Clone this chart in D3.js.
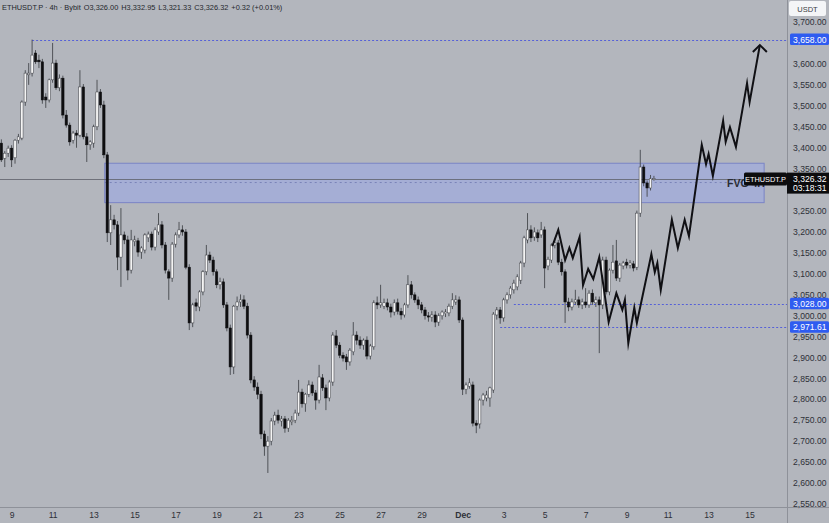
<!DOCTYPE html>
<html><head><meta charset="utf-8">
<script src="https://cdnjs.cloudflare.com/ajax/libs/d3/7.8.5/d3.min.js"></script>
<style>html,body{margin:0;padding:0;background:#b3b6bd;overflow:hidden}svg{display:block}</style>
</head><body><svg id="c" width="829" height="523"></svg>
<script>
// ---------- data ----------
const headerTitle = "ETHUSDT.P · 4h · Bybit";
const headerValues = ["O3,326.00", "H3,332.95", "L3,321.33", "C3,326.32", "+0.32 (+0.01%)"];
const firstBar = "2025-11-08T12:00:00Z";   // 4h bars
const barHours = 4;

const open = [
3411,3375,3387,3399,3376,3418,3423,3509,3574,3578,
3626,3609,3605,3521,3514,3562,3602,3543,3566,3478,
3454,3418,3435,3430,3545,3426,3407,3411,3450,3533,
3502,3383,3197,3228,3216,3139,3192,3180,3108,3176,
3178,3151,3156,3185,3194,3163,3199,3216,3168,3104,
3089,3170,3192,3204,3199,3115,2982,3030,3020,3056,
3104,3144,3132,3104,3073,3080,3025,2970,2877,3022,
3032,3037,3022,2953,2846,2829,2812,2717,2688,2700,
2748,2762,2748,2753,2731,2746,2750,2767,2817,2789,
2812,2834,2815,2798,2851,2827,2803,2841,2951,2929,
2905,2901,2889,2913,2953,2941,2929,2941,2903,2925,
3030,3025,3022,3030,3020,3008,3030,3010,3001,3025,
3073,3049,3037,3025,3013,2999,2996,3001,2984,2999,
3004,3006,3022,3032,3037,2989,2824,2831,2834,2743,
2741,2798,2803,2803,2822,3001,3013,2994,3037,3049,
3061,3068,3084,3125,3180,3204,3187,3197,3192,3204,
3118,3132,3168,3173,3127,3104,3032,3020,3032,3037,
3025,3032,3025,3053,3030,3037,3025,3132,3056,3108,
3130,3089,3118,3127,3120,3123,3115,3244,3354,3316,
3304,3326.00];
const high = [
3420,3392,3405,3406,3421,3433,3513,3585,3602,3658,
3633,3622,3612,3530,3565,3650,3610,3575,3572,3490,
3460,3440,3442,3585,3552,3435,3418,3455,3562,3540,
3512,3390,3263,3240,3225,3256,3200,3190,3204,3190,
3185,3165,3196,3200,3200,3210,3244,3225,3175,3110,
3175,3198,3223,3215,3206,3122,3030,3040,3060,3108,
3168,3152,3140,3110,3090,3088,3032,2978,3025,3045,
3050,3048,3030,2960,2855,2840,2820,2725,2712,2755,
2770,2775,2760,2760,2755,2760,2775,2846,2825,2815,
2845,2842,2822,2882,2860,2835,2846,2960,2965,2936,
2912,2908,2922,2984,2962,2950,2945,2950,2932,3036,
3045,3073,3040,3040,3028,3038,3040,3018,3030,3096,
3082,3055,3045,3032,3020,3008,3010,3010,3005,3012,
3015,3028,3053,3048,3045,2995,2840,2850,2842,2750,
2802,2815,2820,2830,3008,3020,3020,3042,3055,3070,
3085,3098,3130,3190,3244,3215,3210,3205,3223,3212,
3140,3172,3185,3180,3135,3110,3042,3040,3061,3045,
3040,3065,3060,3062,3045,3045,3140,3140,3112,3168,
3180,3125,3130,3135,3132,3130,3250,3395,3360,3322,
3335,3332.95];
const low = [
3366,3354,3378,3354,3362,3410,3418,3500,3550,3570,
3600,3590,3505,3495,3508,3555,3538,3535,3470,3448,
3405,3410,3400,3425,3420,3366,3395,3400,3442,3495,
3375,3175,3168,3205,3108,3068,3170,3084,3100,3165,
3140,3135,3148,3175,3155,3155,3192,3160,3100,3037,
3080,3162,3185,3190,3110,2965,2972,3010,3010,3048,
3096,3125,3095,3065,3062,3018,2962,2858,2860,3012,
3020,3015,2945,2838,2820,2800,2705,2665,2624,2690,
2738,2742,2735,2720,2722,2738,2743,2760,2780,2770,
2805,2808,2775,2790,2820,2774,2795,2832,2922,2898,
2890,2870,2880,2905,2930,2920,2918,2895,2895,2918,
3015,3018,3015,3012,2995,3000,3002,2990,2995,3018,
3040,3030,3015,3005,2990,2985,2985,2972,2975,2990,
2996,2998,3015,3025,2982,2810,2812,2825,2735,2719,
2730,2785,2795,2782,2815,2990,2980,2985,3028,3040,
3052,3060,3075,3115,3172,3175,3178,3175,3185,3065,
3108,3125,3160,3120,3095,2982,3010,3012,3025,3018,
3015,3018,3018,3025,3020,2910,3015,3050,3048,3100,
3082,3080,3110,3112,3112,3105,3108,3235,3308,3283,
3298,3321.33];
const close = [
3371,3387,3399,3371,3418,3426,3509,3578,3578,3621,
3605,3605,3514,3514,3562,3602,3543,3566,3478,3454,
3414,3435,3430,3545,3426,3407,3414,3450,3533,3502,
3383,3197,3228,3216,3139,3192,3180,3108,3180,3180,
3151,3161,3192,3194,3163,3204,3216,3168,3108,3089,
3170,3192,3204,3199,3115,2982,3025,3022,3056,3104,
3144,3132,3104,3073,3080,3025,2970,2877,3022,3032,
3037,3022,2953,2846,2829,2812,2717,2688,2700,2748,
2762,2750,2753,2731,2750,2750,2767,2817,2789,2812,
2834,2815,2798,2853,2827,2803,2841,2953,2929,2905,
2898,2889,2917,2953,2941,2929,2941,2903,2927,3030,
3025,3030,3030,3020,3008,3030,3010,3001,3025,3073,
3049,3037,3025,3013,2999,2996,3001,2984,2999,3008,
3008,3022,3037,3037,2989,2824,2834,2839,2743,2738,
2798,2810,2810,2827,3003,3013,2994,3037,3049,3065,
3077,3092,3125,3185,3204,3185,3199,3185,3204,3113,
3134,3168,3173,3127,3104,3032,3020,3032,3037,3025,
3032,3025,3053,3032,3037,3025,3132,3056,3108,3127,
3089,3120,3125,3120,3125,3113,3244,3354,3316,3304,
3326,3326.32];

const lastPrice = 3326.32;
const countdown = "03:18:31";

// visible price-scale labels (3,650 and 3,300 sit under the level / price boxes)
const priceTicks = [2550,2600,2650,2700,2750,2800,2850,2900,2950,3000,3050,3100,
  3150,3200,3250,3350,3400,3450,3500,3550,3600,3700];
const timeTicks = ["2025-11-09","2025-11-11","2025-11-13","2025-11-15","2025-11-17","2025-11-19",
  "2025-11-21","2025-11-23","2025-11-25","2025-11-27","2025-11-29","2025-12-01","2025-12-03",
  "2025-12-05","2025-12-07","2025-12-09","2025-12-11","2025-12-13","2025-12-15"];

const levelPrices = [3658.00, 3028.00, 2971.61];
const levelStarts = ["2025-11-10T00:00:00Z", "2025-12-03T12:00:00Z", "2025-12-02T20:00:00Z"];

const fvgTop = 3363, fvgBottom = 3269, fvgMid = 3317;
const fvgStart = "2025-11-13T13:00:00Z", fvgEnd = "2025-12-15T17:00:00Z";
const fvgLabel = "FVG 4H";

const projTimes = ["2025-12-05T09:00Z","2025-12-05T16:00Z","2025-12-06T00:00Z","2025-12-06T05:00Z",
  "2025-12-06T09:00Z","2025-12-06T17:00Z","2025-12-06T21:00Z","2025-12-07T03:00Z","2025-12-07T09:00Z",
  "2025-12-07T16:00Z","2025-12-08T03:00Z","2025-12-08T12:00Z","2025-12-08T19:00Z","2025-12-08T22:00Z",
  "2025-12-09T02:00Z","2025-12-09T09:00Z","2025-12-09T12:00Z","2025-12-10T05:00Z","2025-12-10T09:00Z",
  "2025-12-10T12:00Z","2025-12-10T16:00Z","2025-12-11T05:00Z","2025-12-11T12:00Z","2025-12-11T20:00Z",
  "2025-12-12T01:00Z","2025-12-12T16:00Z","2025-12-12T21:00Z","2025-12-13T00:00Z","2025-12-13T05:00Z",
  "2025-12-13T17:00Z","2025-12-13T20:00Z","2025-12-14T01:00Z","2025-12-14T08:00Z","2025-12-14T21:00Z",
  "2025-12-15T00:00Z","2025-12-15T12:00Z"];
const projPrices = [3165,3204,3132,3161,3137,3187,3072,3111,3087,3139,2984,3053,3013,3037,2934,3018,
  2982,3146,3103,3125,3061,3228,3161,3228,3189,3407,3361,3385,3333,3464,3414,3449,3402,3554,3509,3645];

// ---------- layout ----------
const W = 829, H = 523, plotR = 787, plotB = 507;
const bg = "#b3b6bd", txt = "#2e3038", lvl = "#5560d8", lblBlue = "#2f5cf0";
const font = "'Liberation Sans', Arial, sans-serif";

const svg = d3.select("#c");
svg.append("rect").attr("width", W).attr("height", H).attr("fill", bg);

const x = d3.scaleUtc()
  .domain([new Date("2025-11-09T00:00:00Z"), new Date("2025-12-15T00:00:00Z")])
  .range([11.6, 749.6]);
const y = d3.scaleLinear().domain([2550, 3700]).range([504, 22]);

const t0 = new Date(firstBar).getTime();
const bars = open.map((o, i) => ({
  t: new Date(t0 + i * barHours * 3600e3), o, h: high[i], l: low[i], c: close[i]
}));

const defs = svg.append("defs");
defs.append("clipPath").attr("id", "plot").append("rect")
  .attr("x", 0).attr("y", 0).attr("width", plotR).attr("height", plotB);

const plot = svg.append("g").attr("clip-path", "url(#plot)");

// FVG zone
plot.append("rect")
  .attr("x", x(new Date(fvgStart))).attr("y", y(fvgTop))
  .attr("width", x(new Date(fvgEnd)) - x(new Date(fvgStart)))
  .attr("height", y(fvgBottom) - y(fvgTop))
  .attr("fill", "#a5aed5").attr("stroke", "#7a84c6").attr("stroke-width", 1);
plot.append("line")
  .attr("x1", x(new Date(fvgStart))).attr("x2", x(new Date(fvgEnd)))
  .attr("y1", y(fvgMid)).attr("y2", y(fvgMid))
  .attr("stroke", "#7a84b8").attr("stroke-width", 1).attr("stroke-dasharray", "2,3");

// last price line
plot.append("line").attr("x1", 0).attr("x2", plotR)
  .attr("y1", Math.round(y(lastPrice)) + 0.5).attr("y2", Math.round(y(lastPrice)) + 0.5)
  .attr("stroke", "#5d6068").attr("stroke-width", 0.8);

// horizontal levels
levelPrices.forEach((p, i) => {
  const yy = Math.round(y(p)) + 0.5;
  plot.append("line").attr("x1", x(new Date(levelStarts[i]))).attr("x2", plotR)
    .attr("y1", yy).attr("y2", yy)
    .attr("stroke", lvl).attr("stroke-width", 1).attr("stroke-dasharray", "2,2");
});

// candles
const bw = 2.4;
const cg = plot.append("g");
cg.selectAll("line.w").data(bars).join("line").attr("class", "w")
  .attr("x1", d => x(d.t)).attr("x2", d => x(d.t))
  .attr("y1", d => y(d.h)).attr("y2", d => y(d.l))
  .attr("stroke", "#45474d").attr("stroke-width", 0.9);
cg.selectAll("rect.b").data(bars).join("rect").attr("class", "b")
  .attr("x", d => x(d.t) - bw / 2)
  .attr("y", d => y(Math.max(d.o, d.c)))
  .attr("width", bw)
  .attr("height", d => Math.max(1, Math.abs(y(d.o) - y(d.c))))
  .attr("fill", d => d.c >= d.o ? "#f4f4f4" : "#0e0e10")
  .attr("stroke", d => d.c >= d.o ? "#3c3e44" : "#0e0e10")
  .attr("stroke-width", 0.5);

// projection path
const pts = projTimes.map((t, i) => [x(new Date(t)), y(projPrices[i])]);
plot.append("path").attr("d", d3.line()(pts))
  .attr("fill", "none").attr("stroke", "#101014").attr("stroke-width", 2)
  .attr("stroke-linejoin", "miter").attr("stroke-miterlimit", 10);
const tip = pts[pts.length - 1];
plot.append("path")
  .attr("d", `M${tip[0] - 7},${tip[1] + 7}L${tip[0]},${tip[1]}L${tip[0] + 7},${tip[1] + 7}`)
  .attr("fill", "none").attr("stroke", "#101014").attr("stroke-width", 2);

// FVG label (its "4H" half sits under the symbol tag, as in the reference)
plot.append("text").attr("x", 727).attr("y", y(fvgMid) + 4)
  .attr("font-family", font).attr("font-size", 10.5).attr("font-weight", 700)
  .attr("fill", "#2a2c33").text(fvgLabel);

// axis frame lines
svg.append("line").attr("x1", plotR + 0.5).attr("x2", plotR + 0.5).attr("y1", 0).attr("y2", H)
  .attr("stroke", "#8e9199").attr("stroke-width", 1);
svg.append("line").attr("x1", 0).attr("x2", W).attr("y1", plotB + 0.5).attr("y2", plotB + 0.5)
  .attr("stroke", "#8e9199").attr("stroke-width", 1);

// y axis
const yAxis = svg.append("g").attr("transform", `translate(${plotR + 6},0)`)
  .call(d3.axisRight(y).tickValues(priceTicks).tickSize(0).tickPadding(0).tickFormat(d3.format(",.2f")));
yAxis.select(".domain").remove();
yAxis.selectAll("text").attr("font-family", font).attr("font-size", 8.6).attr("fill", txt);

// x axis
const xAxis = svg.append("g").attr("transform", `translate(0,${plotB})`)
  .call(d3.axisBottom(x).tickValues(timeTicks.map(d => new Date(d + "T00:00:00Z"))).tickSize(0).tickPadding(5)
    .tickFormat(d => d.getUTCDate() === 1 ? d3.utcFormat("%b")(d) : d.getUTCDate()));
xAxis.select(".domain").remove();
xAxis.selectAll("text").attr("font-family", font).attr("font-size", 8.6).attr("fill", txt)
  .attr("font-weight", d => d.getUTCDate() === 1 ? 700 : 400);

// level labels on axis
levelPrices.forEach(p => {
  const yy = y(p);
  svg.append("rect").attr("x", plotR + 3).attr("y", yy - 6).attr("width", 39).attr("height", 11.5)
    .attr("rx", 1.5).attr("fill", lblBlue);
  svg.append("text").attr("x", plotR + 6).attr("y", yy + 3)
    .attr("font-family", font).attr("font-size", 8.6).attr("fill", "#ffffff")
    .text(d3.format(",.2f")(p));
});

// last price labels
const ly = y(lastPrice);
svg.append("rect").attr("x", 744).attr("y", ly - 6).attr("width", 43).attr("height", 13)
  .attr("rx", 1.5).attr("fill", "#0c0c0e");
svg.append("text").attr("x", 765.5).attr("y", ly + 3).attr("text-anchor", "middle")
  .attr("font-family", font).attr("font-size", 7.4).attr("fill", "#fff").text("ETHUSDT.P");
svg.append("rect").attr("x", plotR).attr("y", ly - 6).attr("width", W - plotR).attr("height", 21)
  .attr("fill", "#0c0c0e");
svg.append("text").attr("x", plotR + 6).attr("y", ly + 3)
  .attr("font-family", font).attr("font-size", 8.6).attr("fill", "#fff").text(d3.format(",.2f")(lastPrice));
svg.append("text").attr("x", plotR + 6).attr("y", ly + 12)
  .attr("font-family", font).attr("font-size", 8.6).attr("fill", "#fff").text(countdown);

// USDT box
svg.append("rect").attr("x", 789).attr("y", 1).attr("width", 37).attr("height", 15).attr("rx", 2)
  .attr("fill", "#f4f5f7");
svg.append("text").attr("x", 807.5).attr("y", 11.5).attr("text-anchor", "middle")
  .attr("font-family", font).attr("font-size", 7.5).attr("fill", "#3a3c44").text("USDT");

// header
const hdr = svg.append("text").attr("x", 2).attr("y", 10)
  .attr("font-family", font).attr("font-size", 7.4).attr("fill", "#24262c");
hdr.append("tspan").text(headerTitle);
headerValues.forEach(v => hdr.append("tspan").attr("dx", 3).text(v));
</script></body></html>
